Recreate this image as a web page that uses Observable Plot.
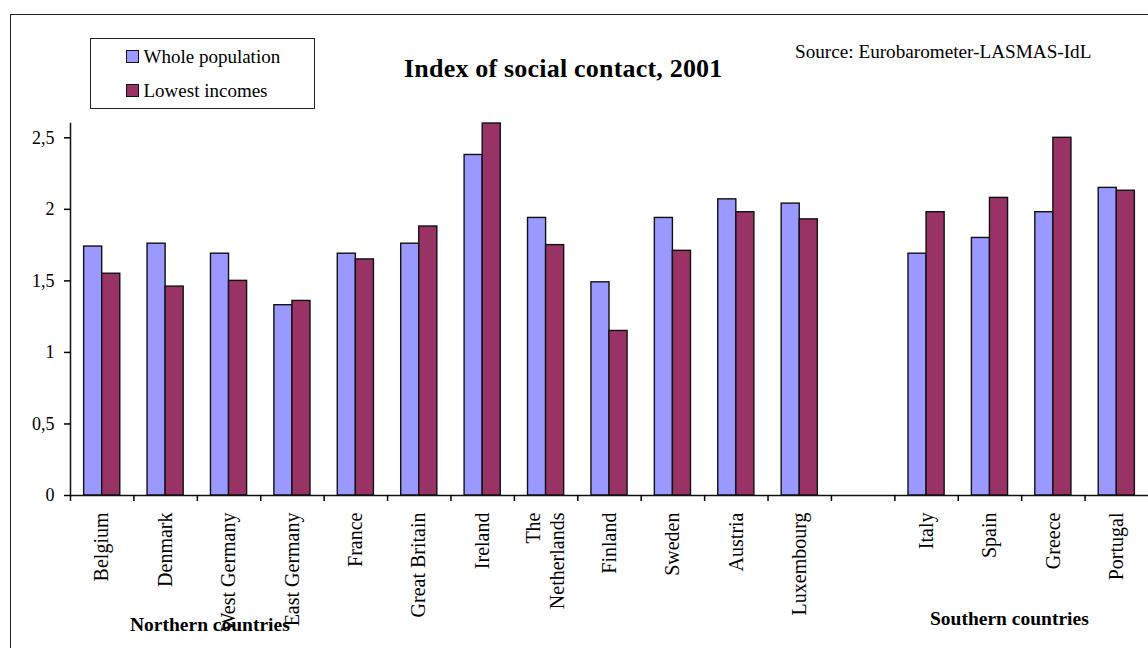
<!DOCTYPE html>
<html><head><meta charset="utf-8">
<script src="https://cdn.jsdelivr.net/npm/d3@7"></script>
<script src="https://cdn.jsdelivr.net/npm/@observablehq/plot@0.6"></script>
<style>
body{margin:0;background:#fff;font-family:"Liberation Serif","Times New Roman",serif;color:#000;}
#wrap{position:relative;width:1148px;height:648px;overflow:hidden;background:#fff;}
#frame{position:absolute;left:10px;top:14px;width:1300px;height:800px;border:1.5px solid #222;box-sizing:border-box;pointer-events:none;}
#chart{position:absolute;left:0;top:0;}
.t{position:absolute;white-space:nowrap;line-height:1;font-family:"Liberation Serif","Times New Roman",serif;}
#title{left:404px;top:55.5px;font-size:26px;font-weight:bold;letter-spacing:0.2px;}
#source{left:795px;top:42px;font-size:19.2px;}
#legend{position:absolute;left:90px;top:38px;width:225px;height:71px;border:1.5px solid #222;box-sizing:border-box;background:#fff;}
.li{position:absolute;left:34.5px;font-size:19px;line-height:1;display:flex;align-items:center;font-family:"Liberation Serif","Times New Roman",serif;}
.sw{width:13px;height:13px;border:1.3px solid #111;box-sizing:border-box;margin-right:5px;}
#north{left:130px;top:614.5px;font-size:19.5px;font-weight:bold;}
#south{left:930px;top:608.5px;font-size:19.5px;font-weight:bold;}
</style></head>
<body>
<div id="wrap">
  <div id="chart"></div>
  <div id="frame"></div>
  <div class="t" id="title">Index of social contact, 2001</div>
  <div class="t" id="source">Source: Eurobarometer-LASMAS-IdL</div>
  <div id="legend">
    <div class="li" style="top:8px"><div class="sw" id="sw1"></div><span id="lg1"></span></div>
    <div class="li" style="top:42px"><div class="sw" id="sw2"></div><span id="lg2"></span></div>
  </div>
  <div class="t" id="north">Northern countries</div>
  <div class="t" id="south">Southern countries</div>
</div>
<script>
const countries = ["Belgium","Denmark","West Germany","East Germany","France","Great Britain","Ireland","The\nNetherlands","Finland","Sweden","Austria","Luxembourg"," ","Italy","Spain","Greece","Portugal"];
const wholePopulation = [1.74,1.76,1.69,1.33,1.69,1.76,2.38,1.94,1.49,1.94,2.07,2.04,null,1.69,1.80,1.98,2.15];
const lowestIncomes   = [1.55,1.46,1.50,1.36,1.65,1.88,2.60,1.75,1.15,1.71,1.98,1.93,null,1.98,2.08,2.50,2.13];
const seriesNames = ["Whole population","Lowest incomes"];
const seriesColors = ["#9999FF","#993366"];
const yTicks = [0,0.5,1,1.5,2,2.5];

const W = 1148, H = 648, mL = 70, mR = 0, mT = 123, mB = 153;
const step = (W - mL - mR) / countries.length;
const barW = step * 0.285;
const outer = (step - 2 * barW) / 2;

const rowsA = countries.map((c, i) => ({country: c, value: wholePopulation[i]}));
const rowsB = countries.map((c, i) => ({country: c, value: lowestIncomes[i]}));

document.getElementById("sw1").style.background = seriesColors[0];
document.getElementById("sw2").style.background = seriesColors[1];
document.getElementById("lg1").textContent = seriesNames[0];
document.getElementById("lg2").textContent = seriesNames[1];

const chart = Plot.plot({
  width: W, height: H,
  marginLeft: mL, marginRight: mR, marginTop: mT, marginBottom: mB,
  style: {fontFamily: "'Liberation Serif','Times New Roman',serif", fontSize: "18px", color: "#000", background: "transparent"},
  x: {domain: countries, padding: 0, round: false, label: null},
  y: {domain: [0, 2.6], label: null},
  marks: [
    Plot.barY(rowsA, {x: "country", y: "value", fill: seriesColors[0], stroke: "#111", strokeWidth: 1.4,
      insetLeft: outer, insetRight: outer + barW}),
    Plot.barY(rowsB, {x: "country", y: "value", fill: seriesColors[1], stroke: "#111", strokeWidth: 1.4,
      insetLeft: outer + barW, insetRight: outer}),
    Plot.ruleY([0], {stroke: "#111", strokeWidth: 1.5}),
    Plot.frame({anchor: "left", stroke: "#111", strokeWidth: 1.5}),
    Plot.axisY({ticks: yTicks, tickSize: 6, tickPadding: 10, strokeWidth: 1.5,
      tickFormat: d => String(d).replace(".", ","), fontSize: 18}),
    Plot.axisX({tickSize: 6, strokeWidth: 1.5, tickFormat: () => "", dx: -step / 2}),
    Plot.axisX({tickSize: 0, tickPadding: 17, tickRotate: -90, fontSize: 20, lineHeight: 1.2, dx: -1.5})
  ]
});
document.getElementById("chart").appendChild(chart);
</script>
</body></html>
